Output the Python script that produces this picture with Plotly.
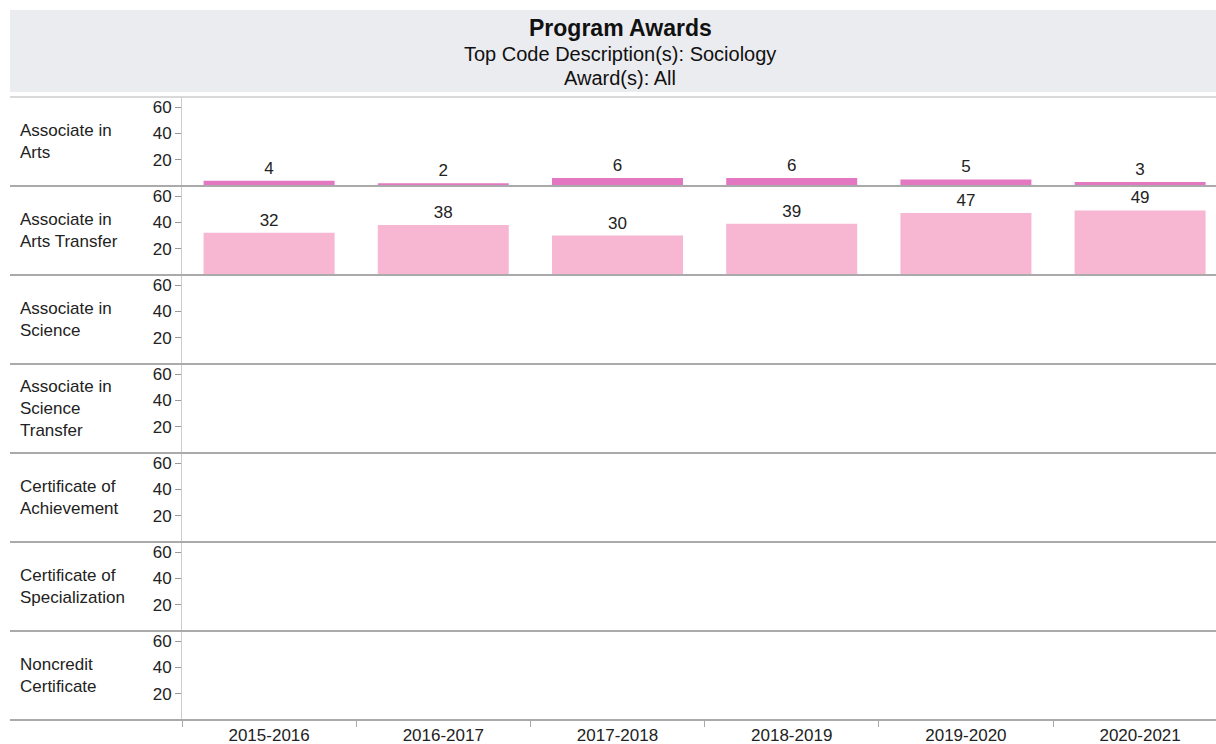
import plotly.graph_objects as go
from plotly.subplots import make_subplots

years = ['2015-2016', '2016-2017', '2017-2018', '2018-2019', '2019-2020', '2020-2021']
award_types = ['Associate in<br>Arts', 'Associate in<br>Arts Transfer', 'Associate in<br>Science',
               'Associate in<br>Science<br>Transfer', 'Certificate of<br>Achievement',
               'Certificate of<br>Specialization', 'Noncredit<br>Certificate']
assoc_arts = [4, 2, 6, 6, 5, 3]
assoc_arts_transfer = [32, 38, 30, 39, 47, 49]
series = {0: (assoc_arts, '#E377C2'), 1: (assoc_arts_transfer, '#F7B6D2')}
y_ticks = [20, 40, 60]

W, H = 1216, 744
L, R, T, B = 182, 0, 97, 24
pw, ph = W - L - R, H - T - B
n = len(award_types)
cat_px = 174.2  # pixel width of one category band (plot continues past right edge)

def px_x(x):
    return (x - L) / pw

def px_y(y):
    return (H - B - y) / ph

fig = make_subplots(rows=n, cols=1, shared_xaxes=True, vertical_spacing=0)

font_family = 'Liberation Sans, Arial, sans-serif'
txt_color = '#222222'
fs = 17

for i in range(n):
    if i in series:
        vals, col = series[i]
        fig.add_trace(go.Bar(x=years, y=vals, marker=dict(color=col, line=dict(width=0)),
                             text=[str(v) for v in vals], textposition='outside',
                             textfont=dict(size=fs, color=txt_color, family=font_family),
                             cliponaxis=False, width=0.752, showlegend=False,
                             hoverinfo='x+y'), row=i + 1, col=1)
    else:
        fig.add_trace(go.Bar(x=years, y=[None] * len(years), showlegend=False), row=i + 1, col=1)
    fig.update_yaxes(range=[0, 60 * 89 / 79], tickvals=y_ticks, ticks='outside', ticklen=6,
                     tickcolor='#999999', showline=True, linecolor='#cccccc', linewidth=1,
                     showgrid=False, zeroline=False, fixedrange=True,
                     tickfont=dict(size=fs, color=txt_color, family=font_family),
                     row=i + 1, col=1)
    fig.update_xaxes(type='category', categoryorder='array', categoryarray=years,
                     range=[-0.5, -0.5 + pw / cat_px], showgrid=False, zeroline=False, showline=False,
                     row=i + 1, col=1)

fig.update_xaxes(ticks='outside', tickson='boundaries', ticklen=6, tickcolor='#aaaaaa',
                 ticklabelstandoff=3,
                 tickfont=dict(size=fs, color=txt_color, family=font_family),
                 row=n, col=1)

shapes = []
shapes.append(dict(type='rect', xref='paper', yref='paper', x0=px_x(10), x1=px_x(1216),
                   y0=px_y(92), y1=px_y(10), fillcolor='#EBECF0', line=dict(width=0), layer='below'))
shapes.append(dict(type='line', xref='paper', yref='paper', x0=px_x(10), x1=px_x(1216),
                   y0=1, y1=1, line=dict(color='#cccccc', width=1.5)))
for i in range(n):
    yb = 1 - (i + 1) / n
    shapes.append(dict(type='line', xref='paper', yref='paper', x0=px_x(10), x1=px_x(1216),
                       y0=yb, y1=yb, line=dict(color='#aaaaaa', width=2)))

annotations = []
annotations.append(dict(xref='paper', yref='paper', x=px_x(620), y=px_y(28), text='<b>Program Awards</b>',
                        showarrow=False, xanchor='center', yanchor='middle',
                        font=dict(size=23, color='#111111', family=font_family)))
annotations.append(dict(xref='paper', yref='paper', x=px_x(620), y=px_y(54),
                        text='Top Code Description(s): Sociology', showarrow=False,
                        xanchor='center', yanchor='middle',
                        font=dict(size=20, color='#111111', family=font_family)))
annotations.append(dict(xref='paper', yref='paper', x=px_x(620), y=px_y(78), text='Award(s): All',
                        showarrow=False, xanchor='center', yanchor='middle',
                        font=dict(size=20, color='#111111', family=font_family)))
for i, lab in enumerate(award_types):
    yc = 1 - (i + 0.5) / n
    annotations.append(dict(xref='paper', yref='paper', x=px_x(18), y=yc, text=lab,
                            showarrow=False, xanchor='left', yanchor='middle', align='left',
                            font=dict(size=fs, color=txt_color, family=font_family)))

fig.update_layout(width=W, height=H, margin=dict(l=L, r=R, t=T, b=B, autoexpand=False),
                  paper_bgcolor='white', plot_bgcolor='white', shapes=shapes,
                  annotations=annotations, bargap=0.24, showlegend=False,
                  font=dict(family=font_family, color=txt_color))

fig.write_html('out.html', config={'displayModeBar': False},
               post_script="document.body.style.margin='0';document.body.style.overflow='hidden';")
